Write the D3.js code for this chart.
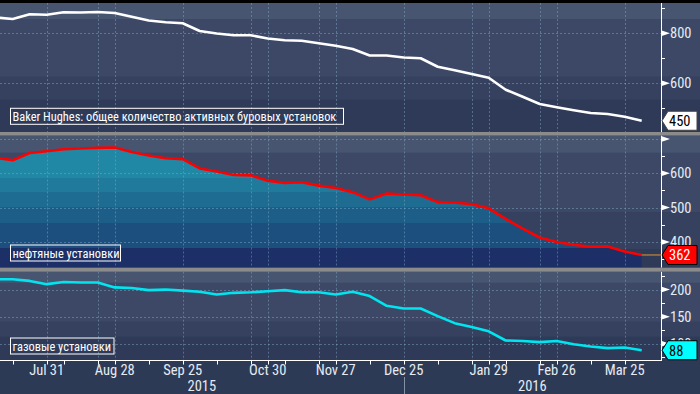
<!DOCTYPE html>
<html>
  <head>
    <meta charset="UTF-8">
    <title>Baker Hughes rig count</title>
    <script src="https://d3js.org/d3.v7.min.js"></script>
    <style>
      body { margin: 0; background: #2d3a56; }
      svg { display: block; }
      text { font-family: "Liberation Sans Narrow", "Arial Narrow", "Roboto Condensed", "Liberation Sans", sans-serif; }
    </style>
  </head>
  <body>
    <svg width="700" height="394"></svg>
    <script>
      // Weekly dates (Fridays)
      var dates = [
        "2015-07-10", "2015-07-17", "2015-07-24", "2015-07-31", "2015-08-07", "2015-08-14",
        "2015-08-21", "2015-08-28", "2015-09-04", "2015-09-11", "2015-09-18", "2015-09-25",
        "2015-10-02", "2015-10-09", "2015-10-16", "2015-10-23", "2015-10-30", "2015-11-06",
        "2015-11-13", "2015-11-20", "2015-11-27", "2015-12-04", "2015-12-11", "2015-12-18",
        "2015-12-25", "2016-01-01", "2016-01-08", "2016-01-15", "2016-01-22", "2016-01-29",
        "2016-02-05", "2016-02-12", "2016-02-19", "2016-02-26", "2016-03-04", "2016-03-11",
        "2016-03-18", "2016-03-25", "2016-04-01"
      ];

      // Series values
      var totalRigs = [863, 857, 876, 874, 884, 883, 885, 881, 866, 851, 844, 840,
                       809, 799, 792, 792, 779, 772, 770, 760, 750, 737, 711, 711,
                       703, 700, 666, 652, 637, 622, 574, 546, 517, 504, 492, 481,
                       477, 466, 450];
      var oilRigs = [645, 638, 659, 664, 670, 672, 674, 675, 662, 652, 644, 641,
                     614, 605, 595, 594, 578, 572, 574, 564, 557, 545, 524, 541,
                     538, 536, 516, 515, 510, 498, 467, 439, 413, 400, 392, 386,
                     387, 372, 362];
      var gasRigs = [219, 219, 216, 210, 214, 213, 213, 204, 203, 199, 200, 198,
                     196, 191, 194, 195, 197, 199, 195, 195, 191, 196, 188, 170,
                     165, 165, 151, 138, 131, 123, 106, 105, 103, 105, 99, 95,
                     92, 93, 88];

      // X axis ticks, labels and grid lines
      var tickDates = ["2015-07-17", "2015-07-31", "2015-08-07", "2015-08-21", "2015-08-28",
                       "2015-09-11", "2015-09-25", "2015-10-09", "2015-10-23", "2015-10-30",
                       "2015-11-06", "2015-11-20", "2015-11-27", "2015-12-11", "2015-12-25",
                       "2016-01-08", "2016-01-22", "2016-01-29", "2016-02-05", "2016-02-19",
                       "2016-02-26", "2016-03-11", "2016-03-25"];
      var labelDates = ["2015-07-31", "2015-08-28", "2015-09-25", "2015-10-30", "2015-11-27",
                        "2015-12-25", "2016-01-29", "2016-02-26", "2016-03-25"];
      var gridDates = ["2015-07-31", "2015-08-21", "2015-08-28", "2015-09-25", "2015-10-23",
                       "2015-10-30", "2015-11-20", "2015-11-27", "2015-12-25", "2016-01-22",
                       "2016-01-29", "2016-02-19", "2016-02-26", "2016-03-25"];
      var years = ["2015", "2016"];
      var yearBreak = "2015-12-25";

      var legendTexts = ["Baker Hughes: общее количество активных буровых установок",
                         "нефтяные установки",
                         "газовые установки"];

      var parse = d3.timeParse("%Y-%m-%d");
      var svg = d3.select("svg");
      var W = 700, H = 394, axisX = 661, axisY = 360;
      var bandColors = ["#485571", "#3c4866", "#35415f", "#2e3a57"];

      var x = d3.scaleTime()
          .domain([parse(dates[0]), parse(dates[dates.length - 1])])
          .range([-4.3, 641.7]);

      var panels = [
        {values: totalRigs, top: 3, bottom: 132, domain: [405, 921], major: 200, minor: 100,
         color: "#ffffff", bands: [0.125, 0.57, 0.75], legendW: 333,
         tagFill: "#ffffff", tagText: "#000000", tagStroke: "#444"},
        {values: oilRigs, top: 135.5, bottom: 267.7, domain: [325, 710], major: 100, minor: 50,
         color: "#ff0000", bands: [0.13, 0.58, 0.86], legendW: 110, area: true,
         tagFill: "#ff0000", tagText: "#ffffff", tagStroke: "#000"},
        {values: gasRigs, top: 271.7, bottom: 360, domain: [70, 233], major: 50, minor: 25,
         color: "#00e5f0", bands: [0.125, 0.565, 0.735], legendW: 103.5,
         tagFill: "#00ffff", tagText: "#000000", tagStroke: "#000"}
      ];

      svg.append("rect").attr("width", W).attr("height", H).attr("fill", "#2d3a56");

      // stepped gradient for the oil area
      var defs = svg.append("defs");
      var grad = defs.append("linearGradient").attr("id", "oilFill")
          .attr("gradientUnits", "userSpaceOnUse")
          .attr("x1", 0).attr("x2", 0).attr("y1", 135.5).attr("y2", 267.7);
      var steps = [[135.5, "#2392ab"], [150, "#2088a4"], [177.7, "#1f7a9b"], [192.3, "#1e6c91"],
                   [207, "#1d5e88"], [223.3, "#1c4f7e"], [248.3, "#1c2f67"], [267.7, "#1c2f67"]];
      steps.forEach(function(s, i) {
        var off = (s[0] - 135.5) / (267.7 - 135.5);
        if (i > 0) grad.append("stop").attr("offset", off).attr("stop-color", steps[i - 1][1]);
        grad.append("stop").attr("offset", off).attr("stop-color", s[1]);
      });

      panels.forEach(function(p, pi) {
        var h = p.bottom - p.top;
        var y = d3.scaleLinear().domain(p.domain).range([p.bottom, p.top]);
        var g = svg.append("g");

        defs.append("clipPath").attr("id", "clip" + pi)
          .append("rect").attr("x", 0).attr("y", p.top).attr("width", axisX).attr("height", h);

        // background bands
        var edges = [0].concat(p.bands).concat([1]);
        for (var i = 0; i < 4; i++) {
          g.append("rect")
            .attr("x", 0).attr("width", W)
            .attr("y", p.top + edges[i] * h)
            .attr("height", (edges[i + 1] - edges[i]) * h + 0.5)
            .attr("fill", bandColors[i]);
        }

        var plot = g.append("g").attr("clip-path", "url(#clip" + pi + ")");

        if (p.area) {
          var area = d3.area()
              .x(function(d, i) { return x(parse(dates[i])); })
              .y0(p.bottom)
              .y1(function(d) { return y(d); });
          plot.append("path").datum(p.values).attr("fill", "url(#oilFill)").attr("d", area);
        }

        // grid lines
        var majors = d3.range(Math.ceil(p.domain[0] / p.major) * p.major, p.domain[1], p.major);
        var minors = d3.range(Math.ceil(p.domain[0] / p.minor) * p.minor, p.domain[1], p.minor)
            .filter(function(v) { return v % p.major !== 0; });

        plot.selectAll(".hgrid").data(majors).enter().append("line")
          .attr("x1", 0).attr("x2", axisX)
          .attr("y1", function(d) { return Math.round(y(d)) + 0.5; })
          .attr("y2", function(d) { return Math.round(y(d)) + 0.5; })
          .attr("stroke", "rgba(130,175,205,0.45)").attr("stroke-dasharray", "2,2");
        plot.selectAll(".vgrid").data(gridDates).enter().append("line")
          .attr("x1", function(d) { return Math.round(x(parse(d))) + 0.5; })
          .attr("x2", function(d) { return Math.round(x(parse(d))) + 0.5; })
          .attr("y1", p.top).attr("y2", p.bottom)
          .attr("stroke", "rgba(130,175,205,0.45)").attr("stroke-dasharray", "2,2");

        // last value guide (oil panel)
        var last = p.values[p.values.length - 1];
        if (p.area) {
          g.append("line")
            .attr("x1", x(parse(dates[dates.length - 1]))).attr("x2", axisX)
            .attr("y1", y(last)).attr("y2", y(last))
            .attr("stroke", "#e0992f").attr("stroke-width", 1);
        }

        // series line
        var line = d3.line()
            .x(function(d, i) { return x(parse(dates[i])); })
            .y(function(d) { return y(d); });
        plot.append("path").datum(p.values)
          .attr("fill", "none").attr("stroke", p.color)
          .attr("stroke-width", 2.6).attr("stroke-linejoin", "round")
          .attr("d", line);

        // legend box
        var ly = p.bottom - (pi === 0 ? 23.7 : pi === 1 ? 22.7 : 22);
        g.append("rect")
          .attr("x", 10.5).attr("y", ly).attr("width", p.legendW).attr("height", 16)
          .attr("fill", "none").attr("stroke", "#ffffff").attr("stroke-width", 1);
        g.append("text")
          .attr("x", 12.5).attr("y", ly + 12.5)
          .attr("fill", "#ffffff").attr("font-size", "12.4px")
          .text(legendTexts[pi]);

        // right axis
        g.append("line")
          .attr("x1", axisX + 0.5).attr("x2", axisX + 0.5)
          .attr("y1", p.top).attr("y2", p.bottom)
          .attr("stroke", "#ffffff").attr("stroke-width", 1);
        g.selectAll(".minor").data(minors).enter().append("line")
          .attr("x1", axisX).attr("x2", axisX + 4)
          .attr("y1", function(d) { return Math.round(y(d)) + 0.5; })
          .attr("y2", function(d) { return Math.round(y(d)) + 0.5; })
          .attr("stroke", "#ffffff");
        g.selectAll(".major").data(majors).enter().append("path")
          .attr("d", function(d) {
            var yy = y(d);
            return "M" + axisX + "," + (yy - 3) + "L" + (axisX + 9) + "," + yy + "L" + axisX + "," + (yy + 3) + "Z";
          })
          .attr("fill", "#ffffff");
        g.selectAll(".ylab").data(majors.filter(function(d) { return y(d) - p.top > 7; }))
          .enter().append("text")
          .attr("x", axisX + 9).attr("y", function(d) { return y(d) + 5; })
          .attr("fill", "#e6ebf2").attr("font-size", "14.5px")
          .text(function(d) { return d; });

        // last value tag
        var ty = y(last);
        g.append("path")
          .attr("d", "M662," + ty + "L668," + (ty - 9.5) + "L697," + (ty - 9.5) + "L697," + (ty + 9.5) + "L668," + (ty + 9.5) + "Z")
          .attr("fill", p.tagFill).attr("stroke", p.tagStroke).attr("stroke-width", 1);
        g.append("text")
          .attr("x", 669).attr("y", ty + 5.3)
          .attr("fill", p.tagText).attr("font-size", "14.5px")
          .text(last);
      });

      // x axis
      var xa = svg.append("g");
      xa.append("line").attr("x1", 0).attr("x2", axisX + 1)
        .attr("y1", axisY + 0.5).attr("y2", axisY + 0.5).attr("stroke", "#ffffff");
      xa.selectAll(".xt").data(tickDates).enter().append("line")
        .attr("x1", function(d) { return Math.round(x(parse(d))) + 0.5; })
        .attr("x2", function(d) { return Math.round(x(parse(d))) + 0.5; })
        .attr("y1", axisY).attr("y2", axisY + 4.5)
        .attr("stroke", "#ffffff");
      xa.selectAll(".xl").data(labelDates).enter().append("text")
        .attr("x", function(d) { return x(parse(d)); })
        .attr("y", 375)
        .attr("text-anchor", "middle")
        .attr("fill", "#e6ebf2").attr("font-size", "14.5px")
        .text(function(d) { return d3.timeFormat("%b %-d")(parse(d)); });

      var bx = x(parse(yearBreak));
      xa.append("line").attr("x1", Math.round(bx) + 0.5).attr("x2", Math.round(bx) + 0.5)
        .attr("y1", 377).attr("y2", H).attr("stroke", "#8391a6");
      xa.append("text").attr("x", bx / 2).attr("y", 391).attr("text-anchor", "middle")
        .attr("fill", "#e6ebf2").attr("font-size", "14.5px").text(years[0]);
      xa.append("text").attr("x", (bx + axisX) / 2).attr("y", 391).attr("text-anchor", "middle")
        .attr("fill", "#e6ebf2").attr("font-size", "14.5px").text(years[1]);

      // top strip and panel dividers
      svg.append("rect").attr("x", 0).attr("y", 0).attr("width", W).attr("height", 3).attr("fill", "#000000");
      svg.append("rect").attr("x", 0).attr("y", 132).attr("width", W).attr("height", 3.5).attr("fill", "#8b8b8b");
      svg.append("rect").attr("x", 0).attr("y", 267.7).attr("width", W).attr("height", 4).attr("fill", "#8b8b8b");
    </script>
  </body>
</html>
